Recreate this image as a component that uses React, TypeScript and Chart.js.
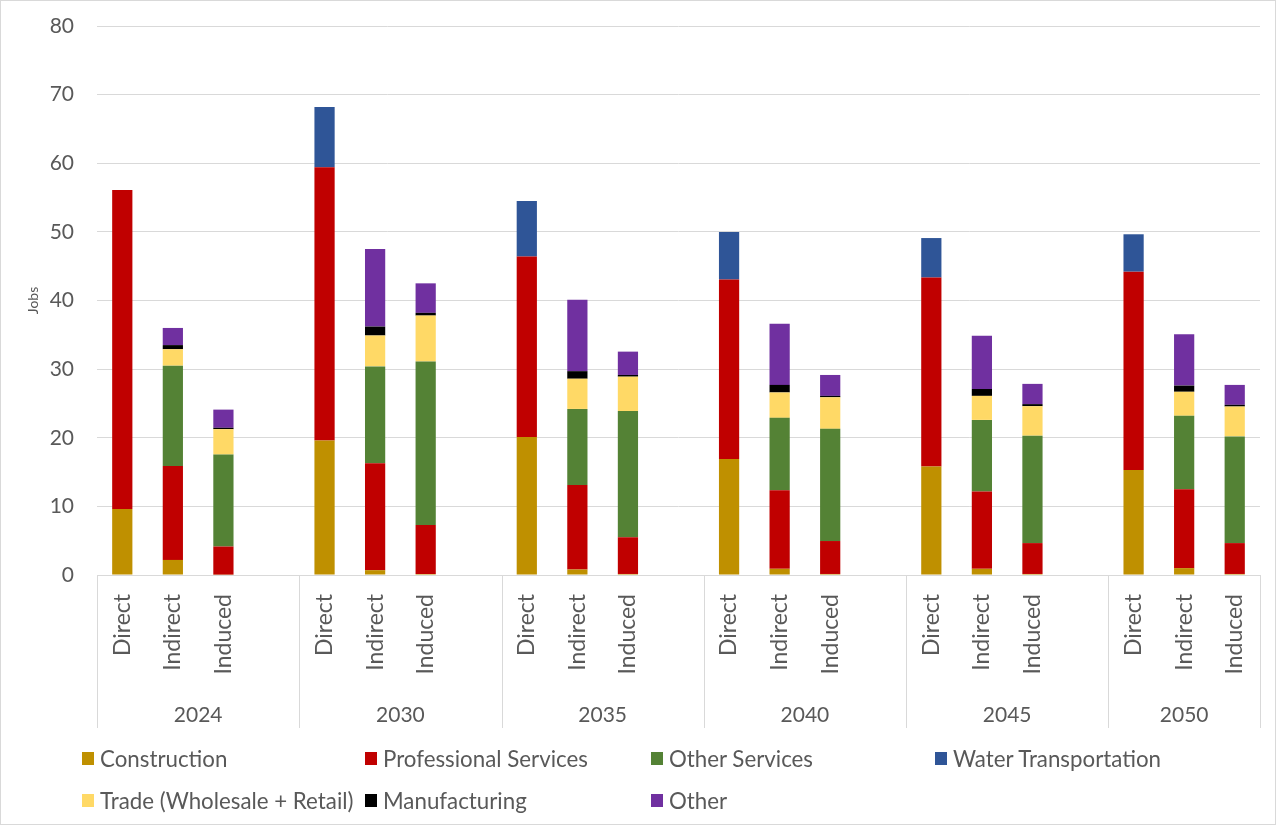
import React, { useEffect, useRef } from 'react';
import { Chart, registerables } from 'chart.js';

Chart.register(...registerables);

// Scenario years and the three impact types shown for each year
const years = ['2024', '2030', '2035', '2040', '2045', '2050'];
const impactTypes = ['Direct', 'Indirect', 'Induced'];

// Jobs by sector, one value per bar: year by year, Direct / Indirect / Induced
const construction = [9.6, 2.2, 0.05, 19.6, 0.7, 0.15, 20.1, 0.8, 0.15, 16.9, 0.9, 0.15, 15.8, 0.9, 0.15, 15.3, 1.0, 0.15];
const professionalServices = [46.5, 13.7, 4.1, 39.8, 15.6, 7.15, 26.3, 12.3, 5.35, 26.15, 11.45, 4.8, 27.55, 11.25, 4.5, 28.9, 11.5, 4.5];
const otherServices = [0, 14.6, 13.4, 0, 14.1, 23.8, 0, 11.1, 18.4, 0, 10.55, 16.35, 0, 10.45, 15.65, 0, 10.7, 15.55];
const waterTransportation = [0, 0, 0, 8.8, 0, 0, 8.1, 0, 0, 6.95, 0, 0, 5.75, 0, 0, 5.45, 0, 0];
const trade = [0, 2.4, 3.7, 0, 4.5, 6.7, 0, 4.4, 5.0, 0, 3.7, 4.6, 0, 3.5, 4.3, 0, 3.5, 4.35];
const manufacturing = [0, 0.6, 0.2, 0, 1.3, 0.4, 0, 1.1, 0.25, 0, 1.1, 0.2, 0, 1.0, 0.3, 0, 0.9, 0.25];
const other = [0, 2.5, 2.65, 0, 11.3, 4.3, 0, 10.4, 3.4, 0, 8.9, 3.05, 0, 7.75, 2.95, 0, 7.5, 2.9];

const yMin = 0;
const yMax = 80;
const yStep = 10;

const sectors = [
  { name: 'Construction', values: construction, color: '#BF9000' },
  { name: 'Professional Services', values: professionalServices, color: '#C00000' },
  { name: 'Other Services', values: otherServices, color: '#548235' },
  { name: 'Water Transportation', values: waterTransportation, color: '#2F5597' },
  { name: 'Trade (Wholesale + Retail)', values: trade, color: '#FFD966' },
  { name: 'Manufacturing', values: manufacturing, color: '#000000' },
  { name: 'Other', values: other, color: '#7030A0' },
];

// legend grid: 4 columns, items fill row by row
const legendColumns = [82, 365, 651, 935];
const legendRows = [758, 800];

const FONT = 'Lato, "Open Sans", "Noto Sans", sans-serif';
const TEXT = '#595959';
const LINE = '#d9d9d9';
const CLEAR = 'rgba(0,0,0,0)';
const W = 1276;
const H = 825;

// one blank slot between year groups keeps the groups apart
const perGroup = impactTypes.length + 1;
const labels: string[] = [];
years.forEach((_, gi) => {
  impactTypes.forEach((t) => labels.push(t));
  if (gi < years.length - 1) labels.push('');
});

function spread(values: number[]): (number | null)[] {
  const out: (number | null)[] = [];
  years.forEach((_, gi) => {
    impactTypes.forEach((_, ti) => out.push(values[gi * impactTypes.length + ti]));
    if (gi < years.length - 1) out.push(null);
  });
  return out;
}

const groupAxisPlugin = {
  id: 'groupAxis',
  afterDraw(chart: any) {
    const { ctx, chartArea } = chart;
    const { left, right, bottom } = chartArea;
    const slot = (right - left) / labels.length;
    ctx.save();
    ctx.strokeStyle = LINE;
    ctx.lineWidth = 1;
    // outer frame
    ctx.strokeRect(0.5, 0.5, W - 1, H - 1);
    // year separators
    const edges: number[] = [];
    years.forEach((_, gi) => edges.push(left + gi * perGroup * slot));
    edges.push(right);
    edges.forEach((x) => {
      const px = Math.round(x) + 0.5;
      ctx.beginPath();
      ctx.moveTo(px, bottom);
      ctx.lineTo(px, 728);
      ctx.stroke();
    });
    // year labels
    ctx.fillStyle = TEXT;
    ctx.font = `21px ${FONT}`;
    ctx.textAlign = 'center';
    ctx.textBaseline = 'middle';
    years.forEach((y, gi) => {
      const x0 = edges[gi];
      const x1 = edges[gi + 1];
      ctx.fillText(y, (x0 + x1) / 2, 715);
    });
    ctx.restore();
  },
};

export default function App() {
  const canvasRef = useRef<HTMLCanvasElement | null>(null);

  useEffect(() => {
    const canvas = canvasRef.current;
    if (!canvas) return;
    const chart = new Chart(canvas, {
      type: 'bar',
      data: {
        labels,
        datasets: sectors.map((s) => ({
          label: s.name,
          data: spread(s.values),
          backgroundColor: s.color,
          borderWidth: 0,
          barPercentage: 0.4,
          categoryPercentage: 1,
        })),
      },
      options: {
        responsive: false,
        animation: false,
        devicePixelRatio: 1,
        layout: { padding: { top: 26, left: 0, right: 16, bottom: 0 } },
        plugins: {
          legend: { display: false },
          tooltip: { enabled: false },
        },
        scales: {
          x: {
            stacked: true,
            // invisible tick marks push the rotated labels down from the axis line
            grid: { display: true, drawOnChartArea: false, drawTicks: true, tickLength: 19, tickColor: CLEAR },
            border: { display: true, color: LINE, width: 1 },
            ticks: {
              autoSkip: false,
              minRotation: 90,
              maxRotation: 90,
              padding: 0,
              color: TEXT,
              font: { family: FONT, size: 23 },
            },
            afterFit: (scale: any) => {
              scale.height = 250;
            },
          },
          y: {
            stacked: true,
            min: yMin,
            max: yMax,
            ticks: {
              stepSize: yStep,
              padding: 0,
              color: TEXT,
              font: { family: FONT, size: 21 },
            },
            grid: { color: LINE, lineWidth: 1, drawTicks: true, tickLength: 23, tickColor: CLEAR },
            border: { display: false },
            title: {
              display: true,
              text: 'Jobs',
              color: TEXT,
              font: { family: FONT, size: 14 },
              padding: { top: 25, bottom: 0 },
            },
            afterFit: (scale: any) => {
              scale.width = 97;
            },
          },
        },
      },
      plugins: [groupAxisPlugin],
    });
    return () => chart.destroy();
  }, []);

  return (
    <div style={{ position: 'absolute', left: 0, top: 0, width: W, height: H, background: '#fff' }}>
      <canvas ref={canvasRef} width={W} height={H} style={{ display: 'block' }} />
      {sectors.map((s, i) => {
        const col = i % legendColumns.length;
        const row = Math.floor(i / legendColumns.length);
        return (
          <div
            key={s.name}
            style={{
              position: 'absolute',
              left: legendColumns[col],
              top: legendRows[row] - 14,
              height: 28,
              display: 'flex',
              alignItems: 'center',
              fontFamily: FONT,
              fontSize: 22.3,
              color: TEXT,
              whiteSpace: 'nowrap',
            }}
          >
            <span style={{ display: 'inline-block', width: 12, height: 13, background: s.color, marginRight: 6 }} />
            <span>{s.name}</span>
          </div>
        );
      })}
    </div>
  );
}
